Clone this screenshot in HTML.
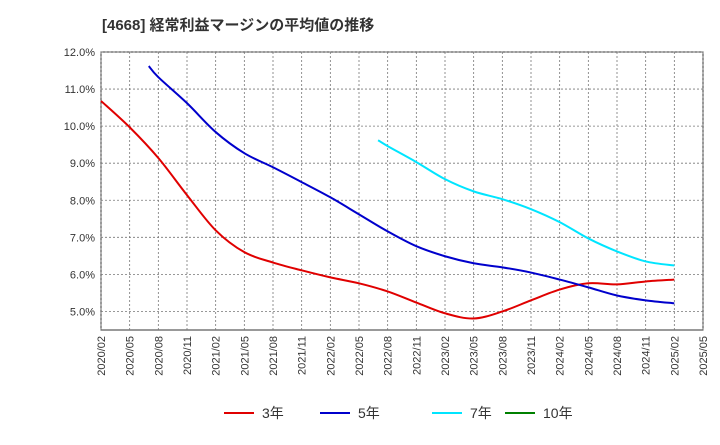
<!DOCTYPE html>
<html><head><meta charset="utf-8"><style>
body{margin:0;background:#fff;font-family:"Liberation Sans","Noto Sans CJK JP",sans-serif;}
svg text{font-family:"Liberation Sans","Noto Sans CJK JP",sans-serif;}
</style></head><body>
<svg id="c" width="720" height="440" xmlns="http://www.w3.org/2000/svg">
<text x="102" y="30" font-size="15" font-weight="bold" fill="#333">[4668]  経常利益マージンの平均値の推移</text>
</svg>
<script>
const yTicks=[5,6,7,8,9,10,11,12];
const xLabels=["2020/02","2020/05","2020/08","2020/11","2021/02","2021/05","2021/08","2021/11","2022/02","2022/05","2022/08","2022/11","2023/02","2023/05","2023/08","2023/11","2024/02","2024/05","2024/08","2024/11","2025/02","2025/05"];
// month index from 2020/02
const m3=[0,3,6,9,12,15,18,21,24,27,30,33,36,39,42,45,48,51,54,57,60];
const v3=[10.68,9.97,9.14,8.14,7.19,6.6,6.32,6.11,5.92,5.76,5.54,5.24,4.95,4.81,5.0,5.3,5.59,5.76,5.73,5.81,5.86];
const m5=[5,6,9,12,15,18,21,24,27,30,33,36,39,42,45,48,51,54,57,60];
const v5=[11.62,11.32,10.62,9.84,9.27,8.89,8.49,8.08,7.62,7.16,6.76,6.49,6.3,6.19,6.05,5.86,5.65,5.43,5.3,5.22];
const m7=[29,30,33,36,39,42,45,48,51,54,57,60];
const v7=[9.62,9.46,9.03,8.57,8.24,8.03,7.76,7.41,6.97,6.62,6.35,6.24];
const m10=[];const v10=[];
const L=101,R=703,T=52,B=330,yMin=4.5,yMax=12;
const xs=m=>L+m*(R-L)/63;
const ys=v=>B-(v-yMin)*(B-T)/(yMax-yMin);
const svg=document.getElementById('c');const NS="http://www.w3.org/2000/svg";
function mk(t,a,p){const e=document.createElementNS(NS,t);for(const k in a)e.setAttribute(k,a[k]);(p||svg).appendChild(e);return e;}
const bg=mk('rect',{x:L,y:T,width:R-L,height:B-T,fill:'#fff',stroke:'#333','stroke-width':1});


yTicks.forEach(v=>{const y=ys(v);
const g=mk('line',{x1:L,x2:R,y1:y,y2:y,stroke:'#777','stroke-dasharray':'2,2','stroke-width':0.8});


const t=mk('text',{x:L-6,y:y+4,'font-size':11,'text-anchor':'end',fill:'#333'});t.textContent=v.toFixed(1)+'%';

});
xLabels.forEach((s,i)=>{const x=xs(i*3);
const g=mk('line',{x1:x,x2:x,y1:T,y2:B,stroke:'#777','stroke-dasharray':'2,2','stroke-width':0.8});


const t=mk('text',{x:0,y:0,'font-size':11,'text-anchor':'end',fill:'#333',transform:`translate(${x+4},${B+6}) rotate(-90)`});t.textContent=s;

});
function series(ms,vs,c,n){if(!ms.length)return;
const P=ms.map((m,i)=>[xs(m),ys(vs[i])]);
let d='M'+P[0][0]+','+P[0][1];
for(let i=0;i<P.length-1;i++){const p0=P[i-1]||P[i],p1=P[i],p2=P[i+1],p3=P[i+2]||p2;
d+=` C${p1[0]+(p2[0]-p0[0])/6},${p1[1]+(p2[1]-p0[1])/6} ${p2[0]-(p3[0]-p1[0])/6},${p2[1]-(p3[1]-p1[1])/6} ${p2[0]},${p2[1]}`;}
const p=mk('path',{d:d,fill:'none',stroke:c,'stroke-width':2,'stroke-linejoin':'round'});

}
series(m3,v3,'#e00000','line-3yr');series(m5,v5,'#0000cc','line-5yr');series(m7,v7,'#00e5ff','line-7yr');series(m10,v10,'#008000','line-10yr');
const leg=[['3年','#e00000',224],['5年','#0000cc',320],['7年','#00e5ff',432],['10年','#008000',505]];
leg.forEach(([s,c,x])=>{const g=mk('g',{});


mk('line',{x1:x,x2:x+30,y1:413,y2:413,stroke:c,'stroke-width':2},g);
const t=mk('text',{x:x+38,y:418,'font-size':14,fill:'#333'},g);t.textContent=s;});
</script>
</body></html>
